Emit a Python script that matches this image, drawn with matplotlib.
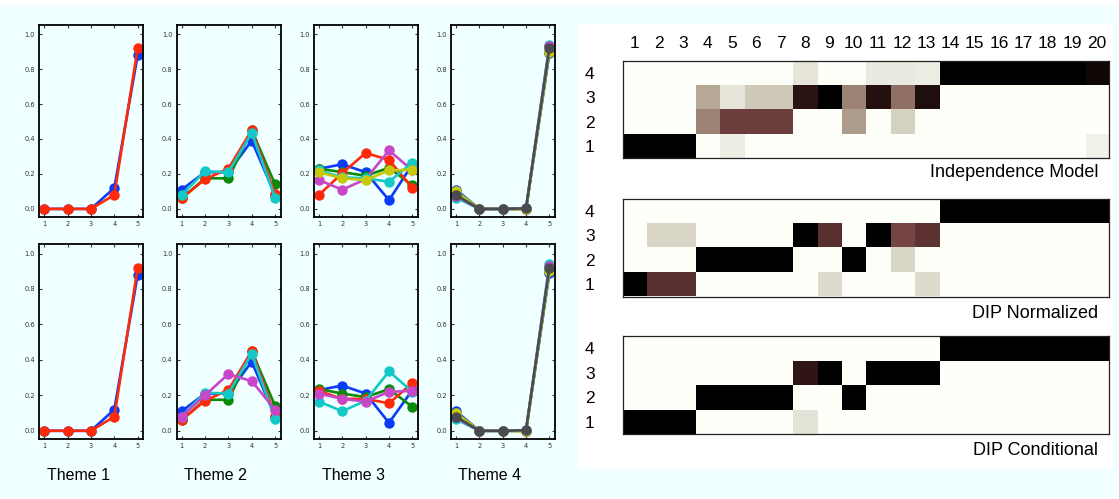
import matplotlib
matplotlib.use("Agg")
import matplotlib.pyplot as plt
import numpy as np
from matplotlib.colors import LinearSegmentedColormap
from matplotlib.patches import Rectangle

W, H = 1119, 499

# ---------------- data ----------------
x_vals = [1, 2, 3, 4, 5]
theme_labels = ["Theme 1", "Theme 2", "Theme 3", "Theme 4"]

C_BLUE = "#0a3cf5"
C_GREEN = "#0a8a0a"
C_RED = "#ff2a0a"
C_CYAN = "#14c8c8"
C_MAG = "#c846c8"
C_YEL = "#c8c80a"
C_GRAY = "#4a4a52"

# top row
t1_top = {C_BLUE: [0, 0, 0, 0.12, 0.88], C_RED: [0, 0, 0, 0.08, 0.92]}
t2_top = {C_BLUE: [0.11, 0.21, 0.21, 0.39, 0.08],
          C_GREEN: [0.06, 0.175, 0.175, 0.45, 0.14],
          C_RED: [0.06, 0.17, 0.23, 0.45, 0.085],
          C_CYAN: [0.08, 0.215, 0.21, 0.435, 0.065]}
t3_top = {C_BLUE: [0.23, 0.255, 0.21, 0.05, 0.255],
          C_GREEN: [0.23, 0.21, 0.19, 0.235, 0.135],
          C_RED: [0.08, 0.205, 0.32, 0.28, 0.12],
          C_MAG: [0.165, 0.11, 0.17, 0.335, 0.22],
          C_CYAN: [0.22, 0.18, 0.175, 0.155, 0.265],
          C_YEL: [0.21, 0.175, 0.165, 0.22, 0.225]}
t4_top = {C_BLUE: [0.11, 0, 0, 0, 0.89],
          C_GREEN: [0.10, 0, 0, 0, 0.90],
          C_CYAN: [0.065, 0, 0, 0, 0.94],
          C_MAG: [0.075, 0, 0, 0, 0.93],
          C_YEL: [0.10, 0, 0, -0.003, 0.90],
          C_GRAY: [0.08, 0, 0, 0.003, 0.92]}
# bottom row
t1_bot = {C_BLUE: [0, 0, 0, 0.12, 0.88], C_RED: [0, 0, 0, 0.08, 0.92]}
t2_bot = {C_BLUE: [0.11, 0.21, 0.21, 0.39, 0.08],
          C_GREEN: [0.06, 0.175, 0.175, 0.45, 0.14],
          C_RED: [0.06, 0.17, 0.23, 0.45, 0.085],
          C_CYAN: [0.08, 0.215, 0.21, 0.435, 0.065],
          C_MAG: [0.08, 0.20, 0.32, 0.28, 0.12]}
t3_bot = {C_BLUE: [0.23, 0.255, 0.21, 0.045, 0.23],
          C_GREEN: [0.235, 0.21, 0.19, 0.235, 0.135],
          C_RED: [0.225, 0.18, 0.18, 0.155, 0.27],
          C_CYAN: [0.165, 0.11, 0.17, 0.335, 0.22],
          C_MAG: [0.21, 0.18, 0.165, 0.22, 0.225]}
t4_bot = t4_top

line_rows = [[t1_top, t2_top, t3_top, t4_top], [t1_bot, t2_bot, t3_bot, t4_bot]]

col_labels = [str(i) for i in range(1, 21)]
row_labels = ["1", "2", "3", "4"]
heat_titles = ["Independence Model", "DIP Normalized", "DIP Conditional"]

# rows listed 1..4 (row 1 at bottom)
indep = [
    [1, 1, 1, 0, 0.1, 0, 0, 0, 0, 0, 0, 0, 0, 0, 0, 0, 0, 0, 0, 0.08],
    [0, 0, 0, 0.45, 0.65, 0.65, 0.65, 0, 0, 0.38, 0, 0.22, 0, 0, 0, 0, 0, 0, 0, 0],
    [0, 0, 0, 0.35, 0.14, 0.25, 0.25, 0.86, 1, 0.45, 0.88, 0.5, 0.9, 0, 0, 0, 0, 0, 0, 0],
    [0, 0, 0, 0, 0, 0, 0, 0.14, 0, 0, 0.12, 0.12, 0.1, 1, 1, 1, 1, 1, 1, 0.95],
]
dip_norm = [
    [1, 0.72, 0.72, 0, 0, 0, 0, 0, 0.18, 0, 0, 0, 0.18, 0, 0, 0, 0, 0, 0, 0],
    [0, 0, 0, 1, 1, 1, 1, 0, 0, 1, 0, 0.2, 0, 0, 0, 0, 0, 0, 0, 0],
    [0, 0.2, 0.2, 0, 0, 0, 0, 1, 0.72, 0, 1, 0.62, 0.7, 0, 0, 0, 0, 0, 0, 0],
    [0, 0, 0, 0, 0, 0, 0, 0, 0, 0, 0, 0, 0, 1, 1, 1, 1, 1, 1, 1],
]
dip_cond = [
    [1, 1, 1, 0, 0, 0, 0, 0.15, 0, 0, 0, 0, 0, 0, 0, 0, 0, 0, 0, 0],
    [0, 0, 0, 1, 1, 1, 1, 0, 0, 1, 0, 0, 0, 0, 0, 0, 0, 0, 0, 0],
    [0, 0, 0, 0, 0, 0, 0, 0.85, 1, 0, 1, 1, 1, 0, 0, 0, 0, 0, 0, 0],
    [0, 0, 0, 0, 0, 0, 0, 0, 0, 0, 0, 0, 0, 1, 1, 1, 1, 1, 1, 1],
]
heat_data = [indep, dip_norm, dip_cond]

# ---------------- figure ----------------
CYAN_BG = "#f0ffff"
fig = plt.figure(figsize=(W / 100, H / 100), dpi=100, facecolor="white")

def px_axes(l, t, w, h, **kw):
    return fig.add_axes([l / W, 1 - (t + h) / H, w / W, h / H], **kw)

# background panels
bg = fig.add_axes([0, 0, 1, 1], zorder=-10)
bg.set_xlim(0, W); bg.set_ylim(H, 0); bg.axis("off")
bg.add_patch(Rectangle((0, 5), W, 492, facecolor=CYAN_BG, edgecolor="none"))
bg.add_patch(Rectangle((578, 24), 536, 445, facecolor="white", edgecolor="none"))

# line plots
lefts = [39.3, 176.7, 314.0, 451.0]
tops = [25.0, 244.3]
heights = [192.3, 195.0]
axw = 104.0
for r in range(2):
    for c in range(4):
        ax = px_axes(lefts[c], tops[r], axw, heights[r])
        ax.set_facecolor(CYAN_BG)
        for color, ys in line_rows[r][c].items():
            ax.plot(x_vals, ys, color=color, lw=1.9, marker="o", ms=7.5,
                    markeredgewidth=0, solid_joinstyle="round")
        ax.set_xlim(0.79, 5.24)
        ax.set_ylim(-0.048, 1.052)
        ax.set_xticks(x_vals)
        ax.set_yticks([0, 0.2, 0.4, 0.6, 0.8, 1.0])
        ax.set_yticklabels(["0.0", "0.2", "0.4", "0.6", "0.8", "1.0"])
        ax.tick_params(direction="in", length=2, width=0.8, labelsize=4.8,
                       colors="#333333", top=True, right=True, pad=3)
        for s in ax.spines.values():
            s.set_linewidth(1.3)
            s.set_color("black")

for c in range(4):
    cx = lefts[c] + axw / 2 - 13
    fig.text(cx / W, 1 - 476 / H, theme_labels[c], ha="center", va="center",
             fontsize=11.5, family="Liberation Sans", color="black")

# heatmaps
cmap = LinearSegmentedColormap.from_list("brownish", [
    (0.0, "#fffffa"), (0.12, "#ebeae0"), (0.25, "#cfcbb8"),
    (0.4, "#a89684"), (0.6, "#7a4a48"), (0.82, "#3a1a1a"), (1.0, "#000000")])

h_tops = [60.5, 198.5, 336.0]
h_l, h_w, h_h = 622.5, 486.0, 98.0
title_y = [172.5, 313.5, 450.5]
title_x = [1098.0, 1098.0, 1098.0]
for i in range(3):
    ax = px_axes(h_l, h_tops[i], h_w, h_h)
    ax.imshow(np.array(heat_data[i]), cmap=cmap, vmin=0, vmax=1, origin="lower",
              aspect="auto", extent=(0.5, 20.5, 0.5, 4.5), interpolation="nearest")
    ax.set_yticks([1, 2, 3, 4])
    ax.set_yticklabels(row_labels, fontsize=12.5, family="Liberation Sans")
    ax.tick_params(axis="y", length=0, pad=20)
    if i == 0:
        ax.xaxis.tick_top()
        ax.set_xticks(range(1, 21))
        ax.set_xticklabels(col_labels, fontsize=12.5, family="Liberation Sans")
        ax.tick_params(axis="x", length=0, pad=7)
    else:
        ax.set_xticks([])
    for s in ax.spines.values():
        s.set_linewidth(0.9)
        s.set_color("#222222")
    fig.text(title_x[i] / W, 1 - title_y[i] / H, heat_titles[i], ha="right",
             va="center", fontsize=13, family="Liberation Sans", color="black")

fig.savefig("out.png", dpi=100, facecolor="white")
